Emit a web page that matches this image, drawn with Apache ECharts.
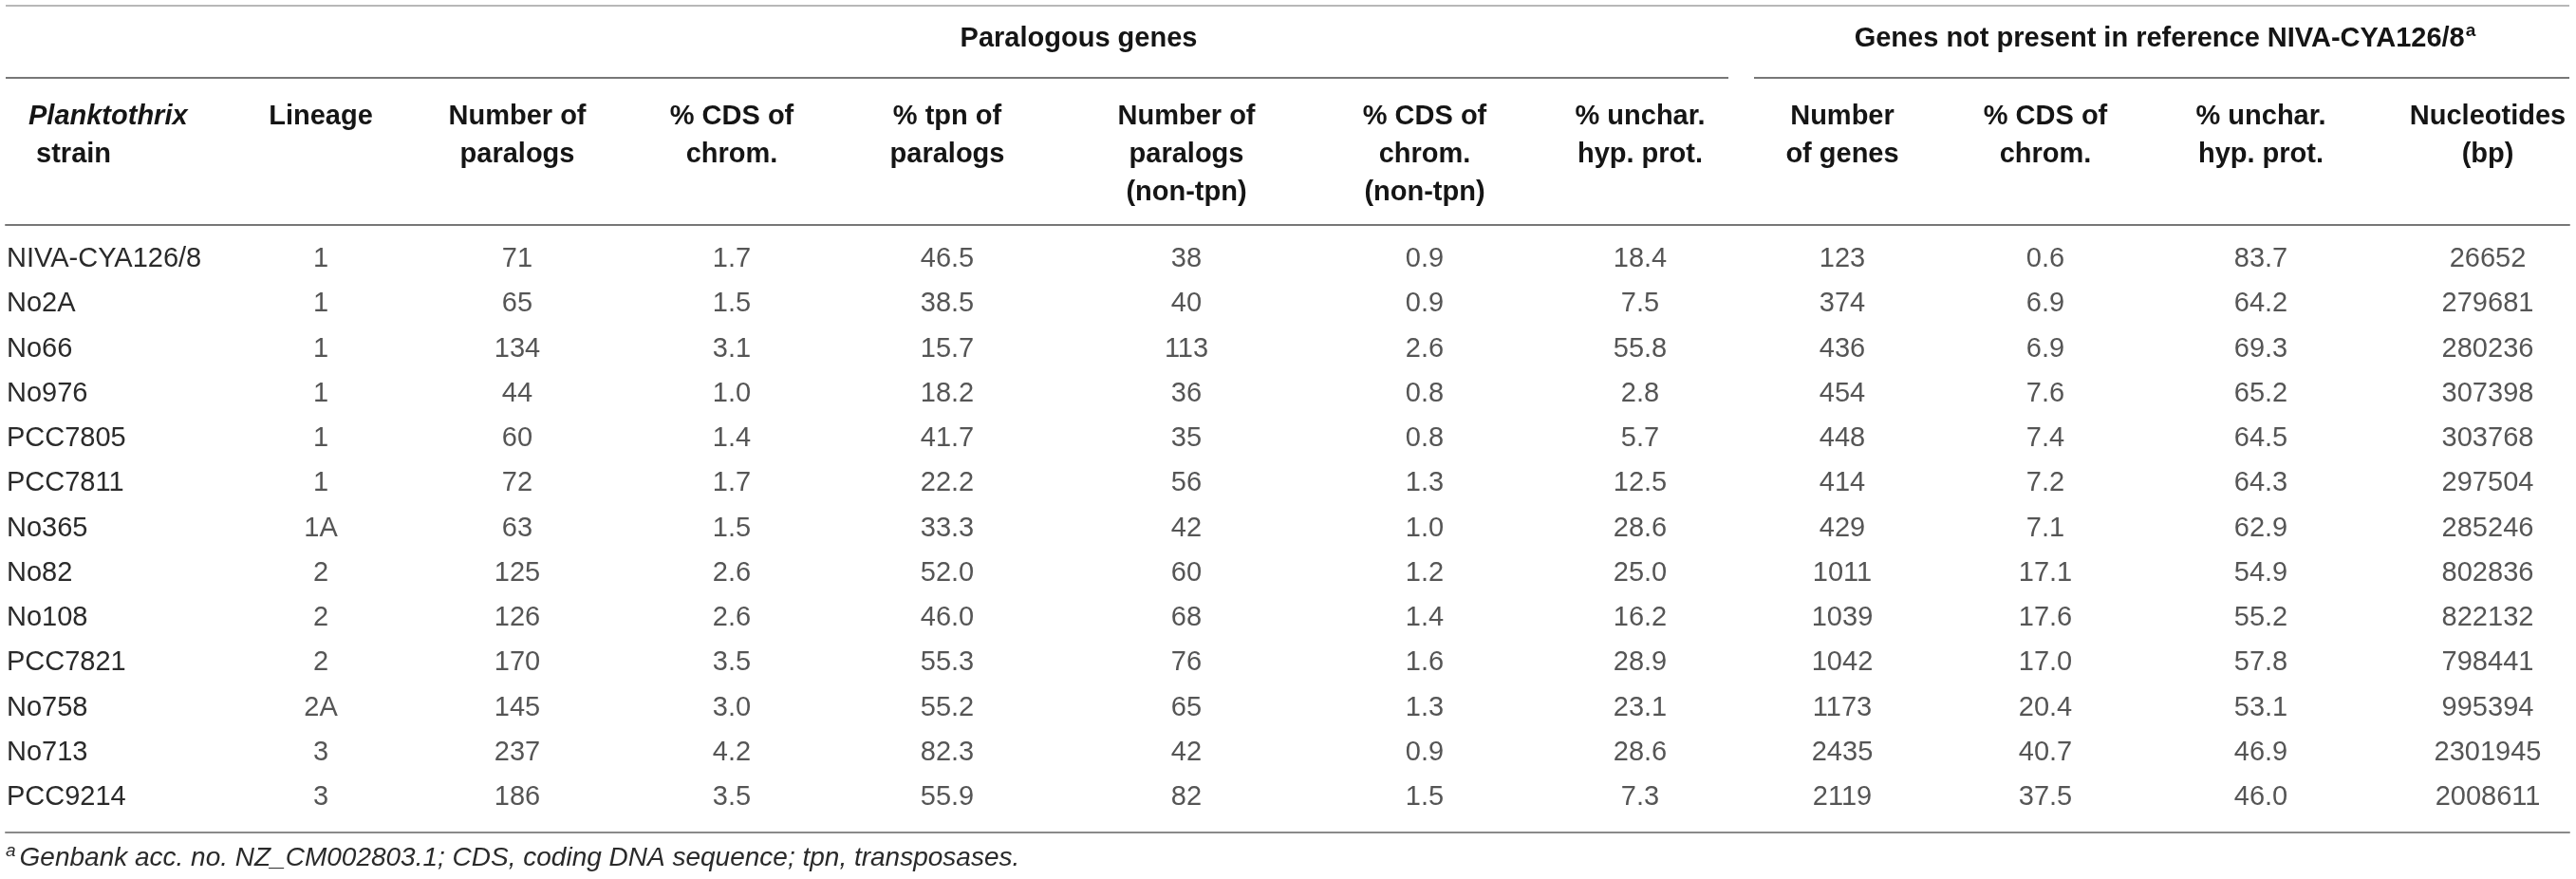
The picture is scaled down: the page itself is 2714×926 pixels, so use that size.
<!DOCTYPE html>
<html>
<head>
<meta charset="utf-8">
<script src="https://cdn.jsdelivr.net/npm/echarts@6/dist/echarts.min.js"></script>
<style>
  html, body { margin: 0; padding: 0; background: #ffffff; }
  #chart { width: 2714px; height: 926px; }
</style>
</head>
<body>
<div id="chart"></div>
<script>
// ---------------- data ----------------
const STRAINS = ['NIVA-CYA126/8', 'No2A', 'No66', 'No976', 'PCC7805', 'PCC7811', 'No365', 'No82', 'No108', 'PCC7821', 'No758', 'No713', 'PCC9214'];
const LINEAGE = ['1', '1', '1', '1', '1', '1', '1A', '2', '2', '2', '2A', '3', '3'];
const NUM_PARALOGS = [71, 65, 134, 44, 60, 72, 63, 125, 126, 170, 145, 237, 186];
const PCT_CDS_CHROM = [1.7, 1.5, 3.1, 1.0, 1.4, 1.7, 1.5, 2.6, 2.6, 3.5, 3.0, 4.2, 3.5];
const PCT_TPN_PARALOGS = [46.5, 38.5, 15.7, 18.2, 41.7, 22.2, 33.3, 52.0, 46.0, 55.3, 55.2, 82.3, 55.9];
const NUM_PARALOGS_NONTPN = [38, 40, 113, 36, 35, 56, 42, 60, 68, 76, 65, 42, 82];
const PCT_CDS_NONTPN = [0.9, 0.9, 2.6, 0.8, 0.8, 1.3, 1.0, 1.2, 1.4, 1.6, 1.3, 0.9, 1.5];
const PCT_UNCHAR_PARALOGS = [18.4, 7.5, 55.8, 2.8, 5.7, 12.5, 28.6, 25.0, 16.2, 28.9, 23.1, 28.6, 7.3];
const NUM_GENES = [123, 374, 436, 454, 448, 414, 429, 1011, 1039, 1042, 1173, 2435, 2119];
const PCT_CDS_GENES = [0.6, 6.9, 6.9, 7.6, 7.4, 7.2, 7.1, 17.1, 17.6, 17.0, 20.4, 40.7, 37.5];
const PCT_UNCHAR_GENES = [83.7, 64.2, 69.3, 65.2, 64.5, 64.3, 62.9, 54.9, 55.2, 57.8, 53.1, 46.9, 46.0];
const NUCLEOTIDES = [26652, 279681, 280236, 307398, 303768, 297504, 285246, 802836, 822132, 798441, 995394, 2301945, 2008611];

const COLUMN_VALUES = [LINEAGE, NUM_PARALOGS, PCT_CDS_CHROM, PCT_TPN_PARALOGS, NUM_PARALOGS_NONTPN,
  PCT_CDS_NONTPN, PCT_UNCHAR_PARALOGS, NUM_GENES, PCT_CDS_GENES, PCT_UNCHAR_GENES, NUCLEOTIDES];
const COLUMN_DECIMALS = [null, 0, 1, 1, 0, 1, 1, 0, 1, 1, 0];

const HEADERS = ['Lineage', 'Number of\nparalogs', '% CDS of\nchrom.', '% tpn of\nparalogs',
  'Number of\nparalogs\n(non-tpn)', '% CDS of\nchrom.\n(non-tpn)', '% unchar.\nhyp. prot.',
  'Number\nof genes', '% CDS of\nchrom.', '% unchar.\nhyp. prot.', 'Nucleotides\n(bp)'];
const STRAIN_HEADER_ITALIC = 'Planktothrix';
const STRAIN_HEADER_REST = ' strain';
const GROUP_NAMES = ['Paralogous genes', 'Genes not present in reference NIVA-CYA126/8'];
const GROUP_SUPS = ['', 'a'];
const FOOTNOTE_SUP = 'a';
const FOOTNOTE = 'Genbank acc. no. NZ_CM002803.1; CDS, coding DNA sequence; tpn, transposases.';

// ---------------- layout ----------------
const TABLE_LEFT = 6, TABLE_RIGHT = 2707;
const COL_X = [338, 545, 771, 998, 1250, 1501, 1728, 1941, 2155, 2382, 2621];
const GROUP_COLS = [[1, 6], [7, 10]];
const FONT = '"Liberation Sans", Arial, Helvetica, sans-serif';
const TXT = '#2a2a2a', HEAD = '#151515';

const chart = echarts.init(document.getElementById('chart'), null, { renderer: 'canvas' });

const series = COLUMN_VALUES.map((vals, c) => ({
  type: 'scatter',
  xAxisIndex: 0,
  yAxisIndex: 0,
  silent: true,
  symbolSize: 1,
  itemStyle: { color: 'rgba(0,0,0,0)' },
  data: vals.map((v, i) => [COL_X[c], i]),
  label: {
    show: true,
    position: 'inside',
    fontFamily: FONT,
    fontSize: 29,
    color: TXT,
    formatter: p => {
      const v = vals[p.dataIndex];
      const d = COLUMN_DECIMALS[c];
      return d === null ? String(v) : Number(v).toFixed(d);
    }
  }
}));

const option = {
  backgroundColor: '#ffffff',
  animation: false,
  grid: { left: TABLE_LEFT, right: 2714 - TABLE_RIGHT, top: 249.375, bottom: 62.375 },
  xAxis: [
    {
      type: 'value', position: 'bottom', min: TABLE_LEFT, max: TABLE_RIGHT, offset: 13.4,
      axisLine: { show: true, lineStyle: { color: '#8a8a8a', width: 2 } },
      axisTick: { show: false }, axisLabel: { show: false }, splitLine: { show: false }
    },
    {
      type: 'value', position: 'top', min: TABLE_LEFT, max: TABLE_RIGHT, offset: 12.4,
      axisLine: { show: true, lineStyle: { color: '#777777', width: 2 } },
      axisTick: { show: false }, splitLine: { show: false },
      axisLabel: {
        show: true,
        customValues: COL_X,
        margin: 134,
        verticalAlign: 'top',
        align: 'center',
        fontFamily: FONT,
        fontSize: 29,
        fontWeight: 'bold',
        lineHeight: 40,
        color: HEAD,
        formatter: v => {
          let idx = COL_X.indexOf(v);
          if (idx < 0) { idx = COL_X.findIndex(x => Math.abs(x - v) < 0.5); }
          return idx < 0 ? '' : HEADERS[idx];
        }
      }
    }
  ],
  yAxis: {
    type: 'category', data: STRAINS, inverse: true,
    axisLine: { show: false }, axisTick: { show: false }, splitLine: { show: false },
    axisLabel: { inside: true, margin: 1, fontFamily: FONT, fontSize: 29, color: TXT },
    name: '{it|' + STRAIN_HEADER_ITALIC + '}\n{b|' + STRAIN_HEADER_REST + '}',
    nameLocation: 'start',
    nameGap: 146.4,
    nameTextStyle: {
      align: 'left', verticalAlign: 'top', padding: [0, 0, 0, 24],
      fontFamily: FONT, fontSize: 29, fontWeight: 'bold', color: HEAD, lineHeight: 40,
      rich: {
        it: { fontFamily: FONT, fontSize: 29, fontWeight: 'bold', fontStyle: 'italic', color: HEAD, lineHeight: 40, align: 'left' },
        b: { fontFamily: FONT, fontSize: 29, fontWeight: 'bold', color: HEAD, lineHeight: 40, align: 'left' }
      }
    }
  },
  series: series
};
chart.setOption(option);

// ---------------- rules, group headers and footnote ----------------
const px = v => chart.convertToPixel({ xAxisIndex: 0 }, v);
const graphics = [];
graphics.push({
  type: 'line', silent: true,
  shape: { x1: px(TABLE_LEFT), y1: 6, x2: px(TABLE_RIGHT), y2: 6 },
  style: { stroke: '#b8b8b8', lineWidth: 2 }
});
const gapMid = (COL_X[GROUP_COLS[0][1]] + COL_X[GROUP_COLS[1][0]]) / 2;
graphics.push({
  type: 'line', silent: true,
  shape: { x1: px(TABLE_LEFT), y1: 82, x2: px(gapMid - 13.5), y2: 82 },
  style: { stroke: '#777777', lineWidth: 2 }
});
graphics.push({
  type: 'line', silent: true,
  shape: { x1: px(gapMid + 13.5), y1: 82, x2: px(TABLE_RIGHT), y2: 82 },
  style: { stroke: '#777777', lineWidth: 2 }
});
GROUP_NAMES.forEach((name, g) => {
  const cx = (COL_X[GROUP_COLS[g][0]] + COL_X[GROUP_COLS[g][1]]) / 2;
  const txt = '{b|' + name + '}' + (GROUP_SUPS[g] ? '{sup|' + GROUP_SUPS[g] + '}' : '');
  graphics.push({
    type: 'text', silent: true, x: px(cx), y: 41,
    style: {
      text: txt, align: 'center', verticalAlign: 'middle',
      font: 'bold 29px ' + FONT, fill: HEAD,
      rich: {
        b: { fontFamily: FONT, fontSize: 29, fontWeight: 'bold', fill: HEAD, lineHeight: 36 },
        sup: { fontFamily: FONT, fontSize: 19, fontWeight: 'bold', fill: HEAD, lineHeight: 36, verticalAlign: 'top', padding: [0, 0, 14, 1] }
      }
    }
  });
});
graphics.push({
  type: 'text', silent: true, x: px(TABLE_LEFT), y: 904,
  style: {
    text: '{sup|' + FOOTNOTE_SUP + '}{it|' + FOOTNOTE + '}',
    align: 'left', verticalAlign: 'middle',
    font: 'italic 28px ' + FONT, fill: TXT,
    rich: {
      sup: { fontFamily: FONT, fontSize: 19, fontStyle: 'italic', fill: TXT, lineHeight: 34, verticalAlign: 'top', padding: [0, 4, 12, 0] },
      it: { fontFamily: FONT, fontSize: 28, fontStyle: 'italic', fill: TXT, lineHeight: 34 }
    }
  }
});
chart.setOption({ graphic: { elements: graphics } });
</script>
</body>
</html>
